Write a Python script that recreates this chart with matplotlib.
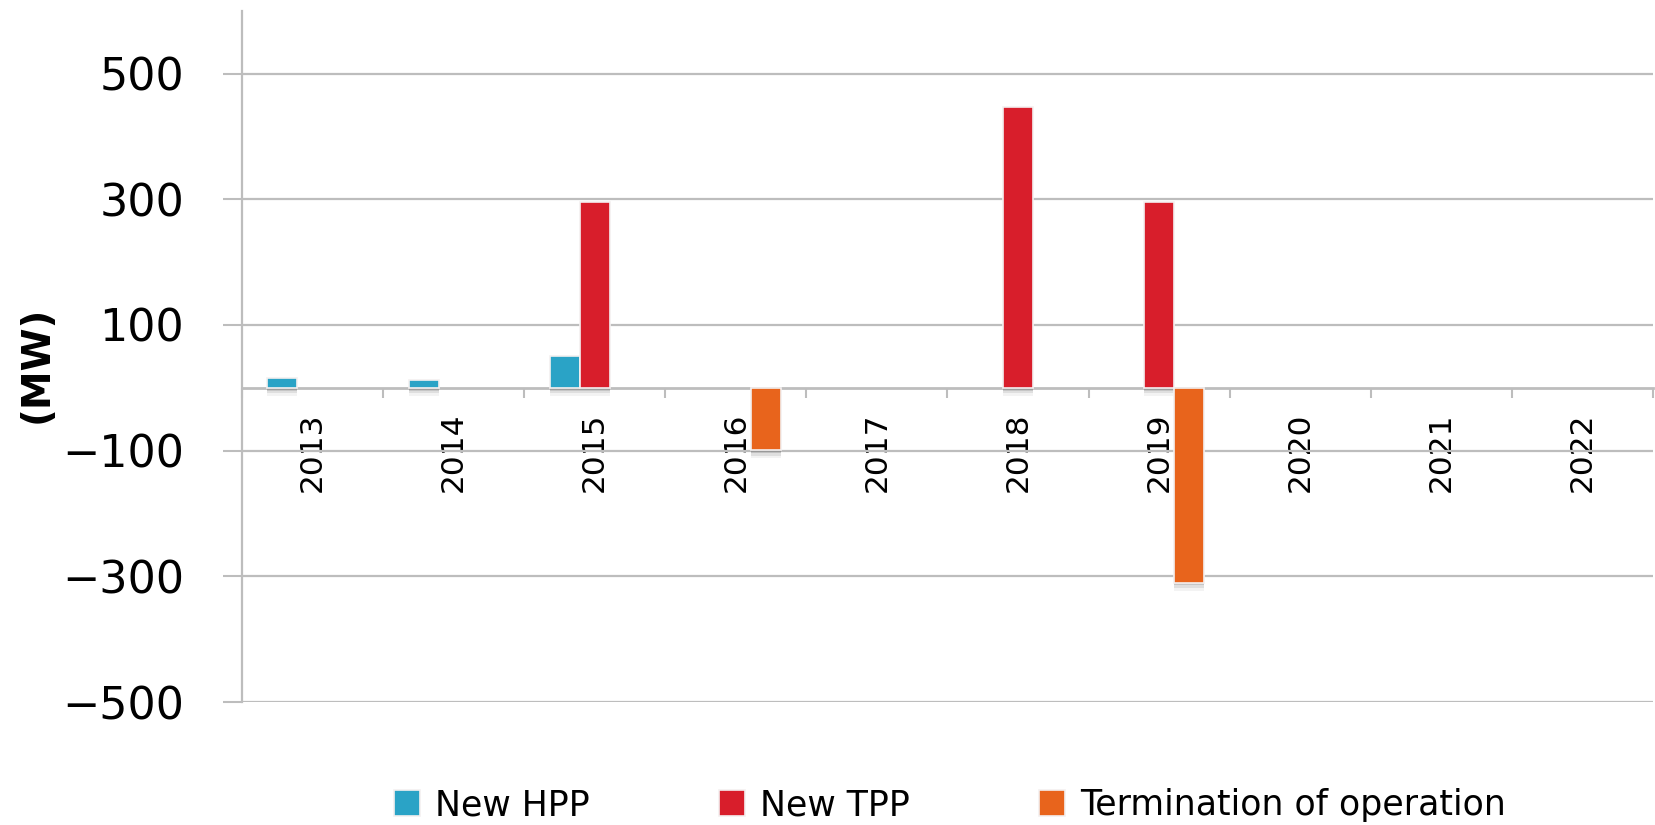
import matplotlib.pyplot as plt
import matplotlib.patheffects as pe
from matplotlib.patches import Patch
import numpy as np

# ---- Data (MW) ----
YEARS = ["2013", "2014", "2015", "2016", "2017", "2018", "2019", "2020", "2021", "2022"]
NEW_HPP = [16, 12, 50, 0, 0, 0, 0, 0, 0, 0]
NEW_TPP = [0, 0, 296, 0, 0, 447, 296, 0, 0, 0]
TERMINATION = [0, 0, 0, -99, 0, 0, -310, 0, 0, 0]
Y_TICKS = [-500, -300, -100, 100, 300, 500]

COLORS = {"hpp": "#2AA3C6", "tpp": "#D81E2B", "term": "#E8641C"}
GRID = "#BDBDBD"
EDGE = "#F4F0F0"

fig = plt.figure(figsize=(16.55, 8.25), dpi=100)
ax = fig.add_axes([0.1462, 0.149, 0.8526, 0.838])

x = np.arange(len(YEARS))
w = 0.213
# soft drop shadow under each bar (stacked offsets fake a blur)
shadow = [pe.SimplePatchShadow(offset=(0, -2), shadow_rgbFace="#555555", alpha=0.18),
          pe.SimplePatchShadow(offset=(0, -4), shadow_rgbFace="#555555", alpha=0.12),
          pe.SimplePatchShadow(offset=(0, -6), shadow_rgbFace="#555555", alpha=0.07),
          pe.Normal()]
series = [(NEW_HPP, -w, "hpp", "New HPP"),
          (NEW_TPP, 0, "tpp", "New TPP"),
          (TERMINATION, w, "term", "Termination of operation")]
handles = []
for vals, off, key, label in series:
    bars = ax.bar(x + off, vals, width=w, color=COLORS[key], edgecolor=EDGE,
                  linewidth=1.2, zorder=3)
    for b in bars:
        if b.get_height() == 0:
            b.set_visible(False)
        else:
            b.set_path_effects(shadow)
    handles.append(Patch(facecolor=COLORS[key], edgecolor=EDGE, linewidth=1.2, label=label))

ax.set_xlim(-0.5, len(YEARS) - 0.5)
ax.set_ylim(-500, 600)

# y axis
ax.set_yticks(Y_TICKS)
ax.set_yticklabels([f"{v}".replace("-", "\u2212") for v in Y_TICKS])
ax.tick_params(axis="y", length=13.7, width=1.5, color=GRID, pad=28, labelsize=32)
ax.yaxis.grid(True, color=GRID, linewidth=1.6, zorder=0)
ax.set_axisbelow(True)

# category axis sits on the zero line
ax.spines["bottom"].set_position(("data", 0))
ax.spines["bottom"].set_color(GRID)
ax.spines["bottom"].set_linewidth(2)
ax.spines["bottom"].set_zorder(2)
ax.spines["left"].set_color(GRID)
ax.spines["left"].set_linewidth(1.6)
ax.spines["top"].set_visible(False)
ax.spines["right"].set_visible(False)

ax.set_xticks(x)
ax.set_xticklabels(YEARS, rotation=90, fontsize=22.5)
ax.set_xticks(np.arange(len(YEARS) + 1) - 0.5, minor=True)
ax.tick_params(axis="x", which="major", length=0, pad=18)
ax.tick_params(axis="x", which="minor", length=7, width=1.5, color=GRID)
for lbl in ax.get_xticklabels():
    lbl.set_verticalalignment("top")

fig.text(0.0224, 0.558, "(MW)", rotation=90, fontsize=28, fontweight="bold",
         ha="center", va="center")

fig.legend(handles=handles, loc="center", bbox_to_anchor=(0.574, 0.024), ncol=3,
           frameon=False, handlelength=0.75, handleheight=0.75, handletextpad=0.45,
           columnspacing=3.7, fontsize=25, borderpad=0, borderaxespad=0)

fig.savefig("out.png", dpi=100)
